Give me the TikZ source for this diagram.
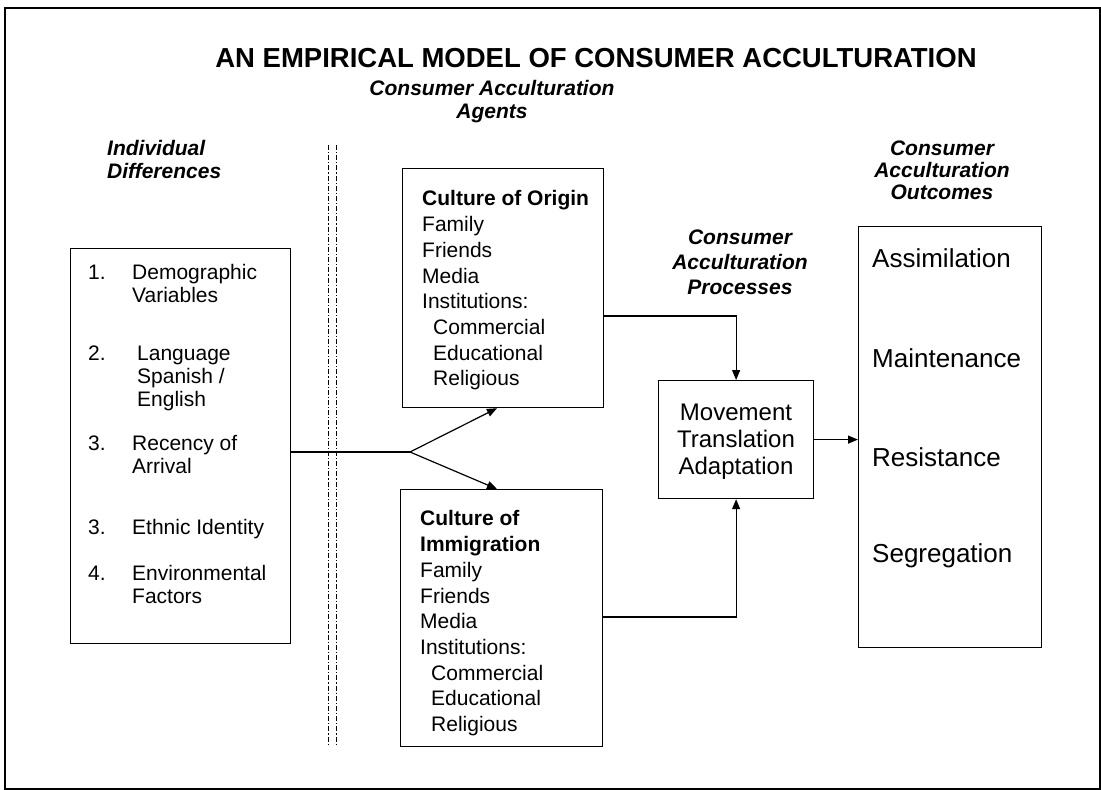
\documentclass[tikz,border=0pt]{standalone}
\usepackage{fontspec}
\setmainfont{Liberation Sans}
\usetikzlibrary{arrows.meta}
\begin{document}
\begin{tikzpicture}[x=1pt,y=-1pt,
  box/.style={draw, line width=1.2pt, inner sep=0pt, anchor=north west},
  txt/.style={inner sep=0pt, anchor=north west, align=left, font=\fontsize{21}{25.7}\selectfont},
  item/.style={inner sep=0pt, anchor=north west, align=left, font=\fontsize{21}{23}\selectfont},
  hdr/.style={inner sep=0pt, align=center, font=\fontsize{21}{23}\selectfont\bfseries\itshape},
  outc/.style={inner sep=0pt, anchor=base west, font=\fontsize{26}{30}\selectfont},
  link/.style={line width=1.2pt},
  arr/.style={link, -{Triangle[length=10pt,width=8pt]}},
  sepline/.style={line width=1pt, dash pattern=on 5pt off 2pt on 1.2pt off 2pt}]
\useasboundingbox (0,0) rectangle (1101,790);
\fill[white] (0,0) rectangle (1101,790);
% outer frame
\draw[line width=1.3pt] (5,8) rectangle (1100,789);

% title
\node[inner sep=0pt, font=\fontsize{27.5}{30}\selectfont\bfseries] (title) at (596,58)
  {AN EMPIRICAL MODEL OF CONSUMER ACCULTURATION};

% headers
\node[hdr, align=left, anchor=north west] (hind) at (107,140.5) {Individual\\Differences};
\node[hdr, anchor=north] (hagents) at (492,80.5) {Consumer Acculturation\\Agents};
\node[hdr, anchor=north, font=\fontsize{21}{25}\selectfont\bfseries\itshape] (hproc) at (740,229.5) {Consumer\\Acculturation\\Processes};
\node[hdr, anchor=north, font=\fontsize{21}{22}\selectfont\bfseries\itshape] (hout) at (942,140.5) {Consumer\\Acculturation\\Outcomes};

% dashed separator
\coordinate (s1t) at (328,145); \coordinate (s1b) at (328,745);
\coordinate (s2t) at (336,145); \coordinate (s2b) at (336,745);
\draw[sepline] (s1t) -- (s1b);
\draw[sepline] (s2t) -- (s2b);

% left box
\node[box, minimum width=220pt, minimum height=395pt] (left) at (70,248) {};
\node[item] (n1) at (88,264.5) {1.};
\node[item] (t1) at (132,264.5) {Demographic\\Variables};
\node[item] (n2) at (88,345.5) {2.};
\node[item] (t2) at (137,345.5) {Language\\Spanish /\\English};
\node[item] (n3) at (88,435.5) {3.};
\node[item] (t3) at (132,435.5) {Recency of\\Arrival};
\node[item] (n4) at (88,519.5) {3.};
\node[item] (t4) at (132,519.5) {Ethnic Identity};
\node[item] (n5) at (88,565.5) {4.};
\node[item] (t5) at (132,565.5) {Environmental\\Factors};

% culture of origin
\node[box, minimum width=201pt, minimum height=239pt] (origin) at (402,168) {};
\node[txt] (origintxt) at (422,190.5) {\textbf{Culture of Origin}\\Family\\Friends\\Media\\Institutions:\\\hspace*{11pt}Commercial\\\hspace*{11pt}Educational\\\hspace*{11pt}Religious};

% culture of immigration
\node[box, minimum width=202pt, minimum height=257pt] (immig) at (400,489) {};
\node[txt] (immigtxt) at (420,510.5) {\textbf{Culture of}\\\textbf{Immigration}\\Family\\Friends\\Media\\Institutions:\\\hspace*{11pt}Commercial\\\hspace*{11pt}Educational\\\hspace*{11pt}Religious};

% processes box
\node[box, minimum width=155pt, minimum height=118pt] (move) at (658,380) {};
\node[inner sep=0pt, anchor=north, align=center, font=\fontsize{24}{27}\selectfont] (movetxt) at (736,403.4) {Movement\\Translation\\Adaptation};

% outcomes box
\node[box, minimum width=183pt, minimum height=421pt] (outcomes) at (858,226) {};
\node[outc] (o1) at (872,267.3) {Assimilation};
\node[outc] (o2) at (872,367.3) {Maintenance};
\node[outc] (o3) at (872,466.3) {Resistance};
\node[outc] (o4) at (872,562.3) {Segregation};

% connectors
\coordinate (branch) at (410,452);
\coordinate (colx) at (497,0);
\coordinate (rowA) at (0,316);
\coordinate (rowB) at (0,617);
\draw[link] (left.east |- branch) -- (branch);
\draw[arr] (branch) -- (origin.south -| colx);
\draw[arr] (branch) -- (immig.north -| colx);
\draw[arr] (origin.east |- rowA) -| (move.north);
\draw[arr] (immig.east |- rowB) -| (move.south);
\draw[arr] (move.east) -- (outcomes.west |- move.east);
\end{tikzpicture}
\end{document}
